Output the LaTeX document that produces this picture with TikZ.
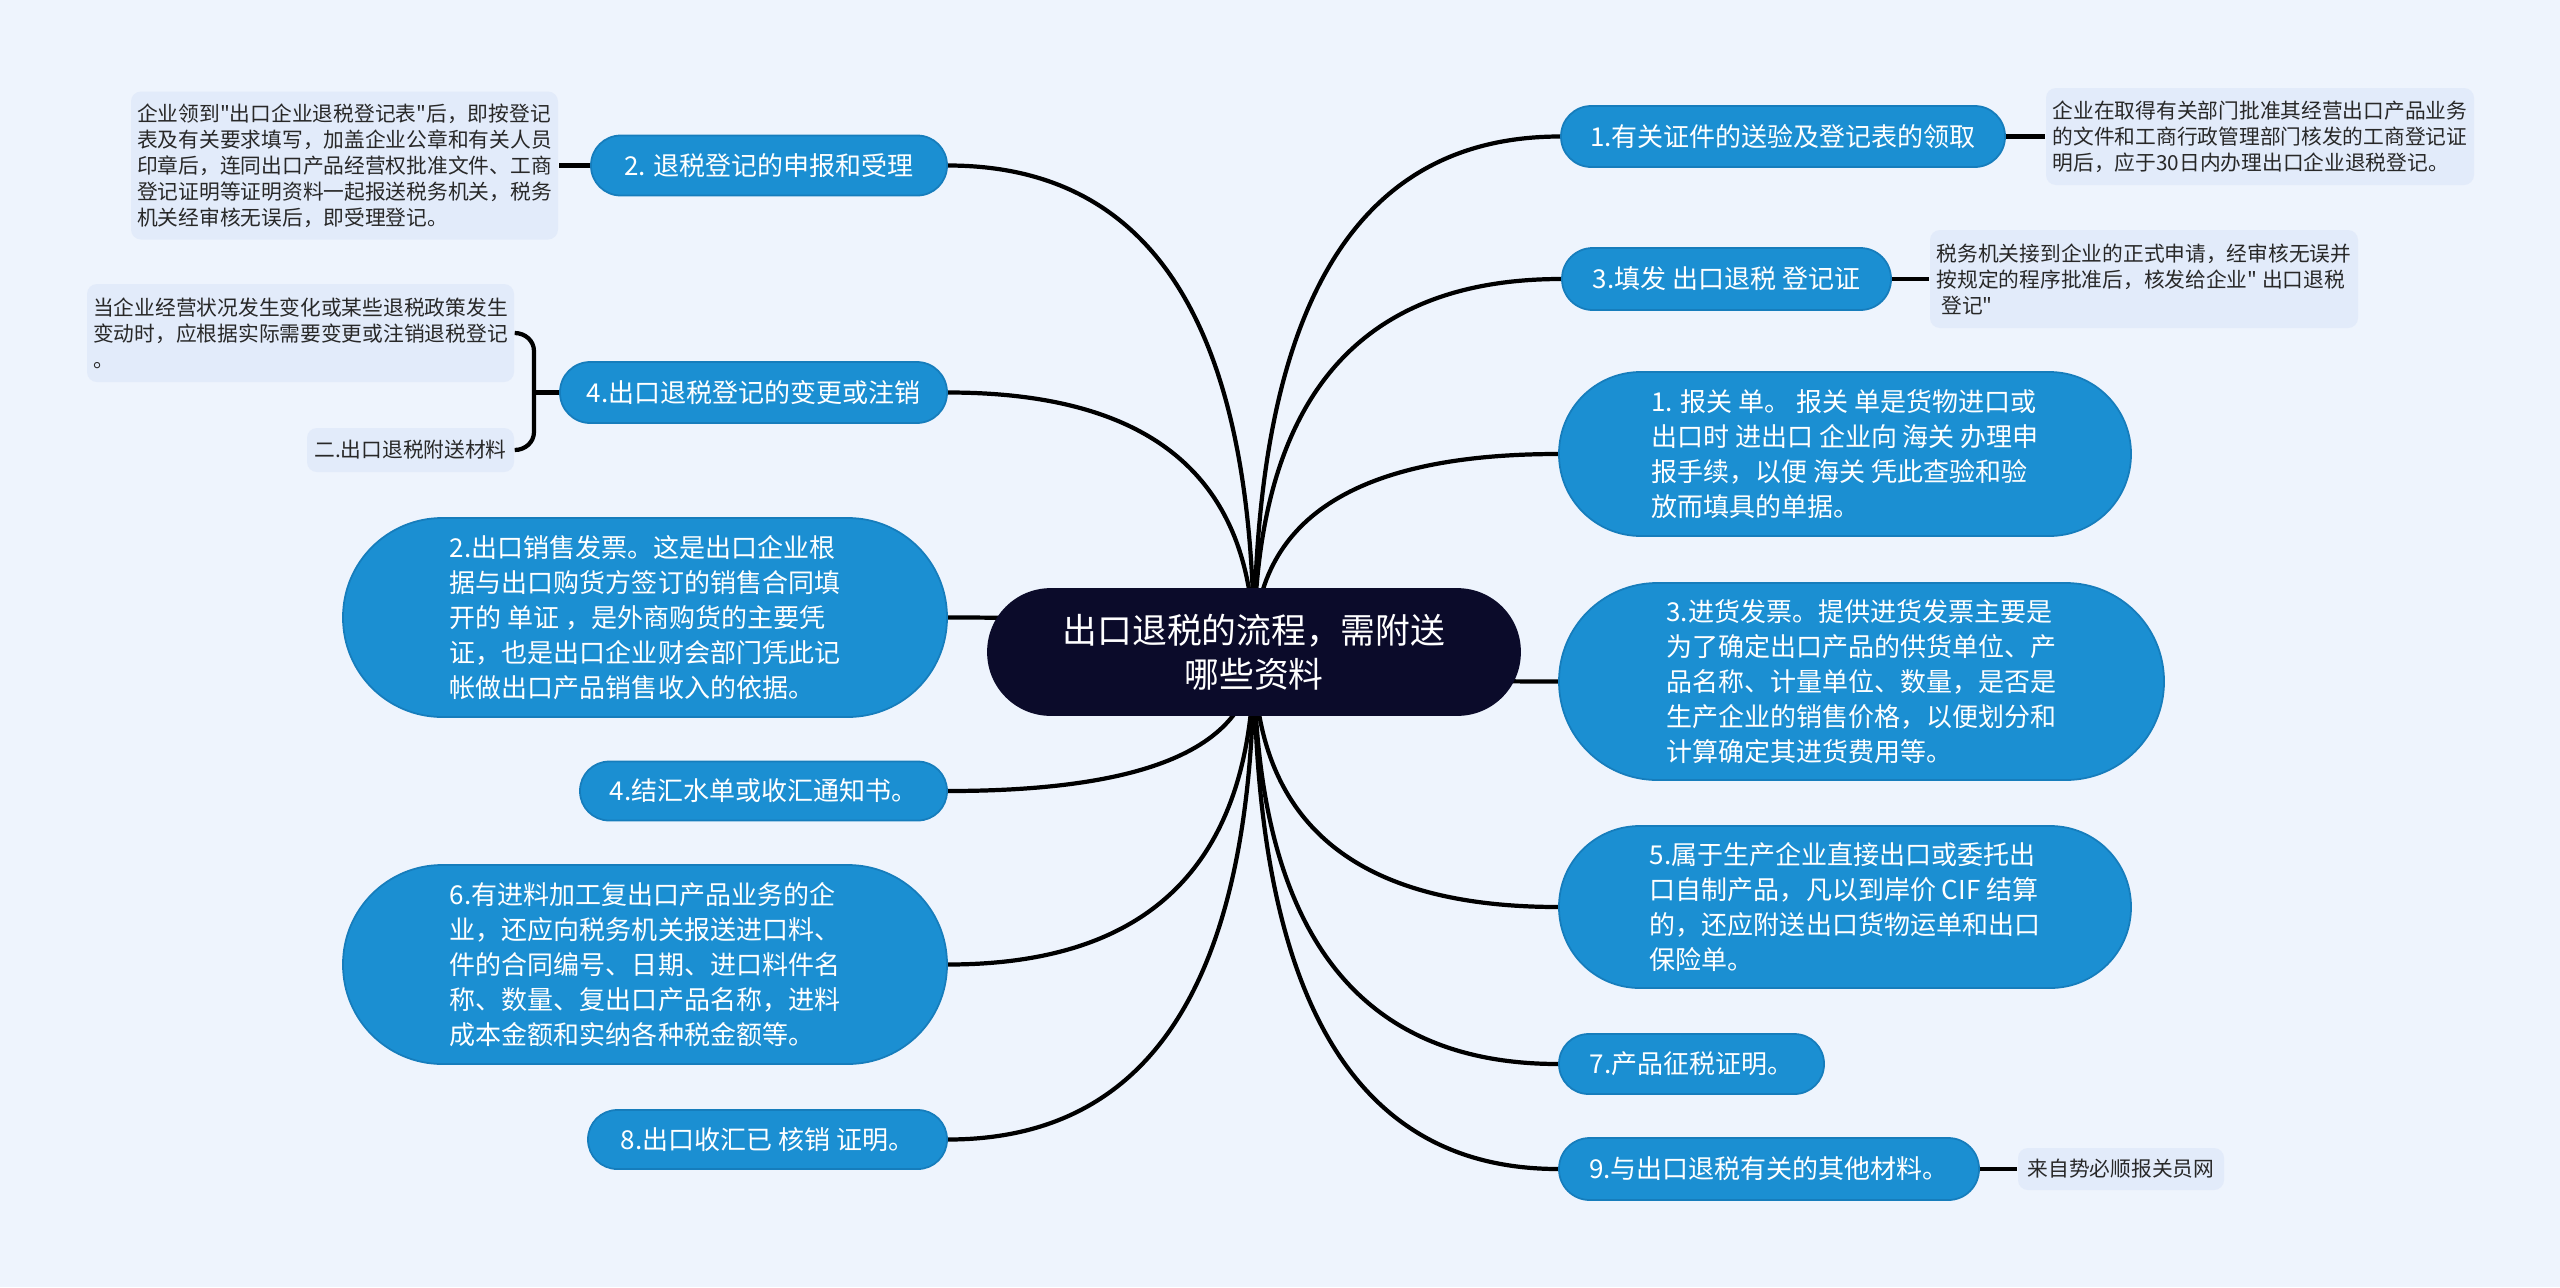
\documentclass[tikz,border=0pt]{standalone}
\usepackage{fontspec}
\setmainfont{Noto Sans CJK SC}[Ligatures=TeXOff]
\usetikzlibrary{calc,backgrounds}
\definecolor{bgblue}{RGB}{238,244,253}
\definecolor{boxblue}{RGB}{226,235,250}
\definecolor{nodeblue}{RGB}{27,143,210}
\definecolor{edgeblue}{RGB}{22,125,188}
\definecolor{rootnavy}{RGB}{11,11,42}
\definecolor{notegray}{RGB}{40,40,40}

\begin{document}
\begin{tikzpicture}[
  pill/.style 2 args={minimum width=#1, minimum height=#2, rounded corners={#2/2-0.1pt}},
  topic/.style={rectangle, fill=nodeblue, draw=edgeblue, line width=0.5pt, text=white,
    inner sep=0pt, align=left, font=\fontsize{7.4}{10}\selectfont},
  note/.style={rectangle, rounded corners=0.1cm, fill=boxblue, text=notegray,
    inner sep=0pt, align=left, font=\fontsize{5.9}{7.4}\selectfont},
  link/.style={black, line width=1.2pt}]
  \useasboundingbox (0,0) rectangle (25.6,-12.87);
  % --- root ---
  \node[topic, pill={5.32cm}{1.26cm}, fill=rootnavy, draw=rootnavy, align=center,
    font=\fontsize{9.9}{12.5}\selectfont] (root) at (12.54,-6.52)
    {出口退税的流程，需附送\\哪些资料};
  % --- right topics ---
  \node[topic, pill={4.44cm}{0.61cm}] (r1) at (17.83,-1.365) {1.有关证件的送验及登记表的领取};
  \node[topic, pill={3.29cm}{0.62cm}] (r2) at (17.265,-2.79) {3.填发 出口退税 登记证};
  \node[topic, pill={5.72cm}{1.64cm}] (r3) at (18.45,-4.54)
    {1. 报关 单。 报关 单是货物进口或\\出口时 进出口 企业向 海关 办理申\\报手续，以便 海关 凭此查验和验\\放而填具的单据。};
  \node[topic, pill={6.05cm}{1.97cm}] (r4) at (18.615,-6.815)
    {3.进货发票。提供进货发票主要是\\为了确定出口产品的供货单位、产\\品名称、计量单位、数量，是否是\\生产企业的销售价格，以便划分和\\计算确定其进货费用等。};
  \node[topic, pill={5.72cm}{1.62cm}] (r5) at (18.45,-9.07)
    {5.属于生产企业直接出口或委托出\\口自制产品，凡以到岸价 CIF 结算\\的，还应附送出口货物运单和出口\\保险单。};
  \node[topic, pill={2.65cm}{0.60cm}] (r6) at (16.915,-10.64) {7.产品征税证明。};
  \node[topic, pill={4.20cm}{0.62cm}] (r7) at (17.69,-11.69) {9.与出口退税有关的其他材料。};
  % --- right notes ---
  \node[note, minimum width=4.28cm, minimum height=0.97cm] (r1d) at (22.60,-1.365)
    {企业在取得有关部门批准其经营出口产品业务\\的文件和工商行政管理部门核发的工商登记证\\明后，应于30日内办理出口企业退税登记。};
  \node[note, minimum width=4.28cm, minimum height=0.98cm] (r2d) at (21.44,-2.79)
    {税务机关接到企业的正式申请，经审核无误并\\按规定的程序批准后，核发给企业" 出口退税\\~登记"};
  \node[note, minimum width=2.06cm, minimum height=0.42cm] (r7d) at (21.21,-11.69)
    {来自势必顺报关员网};
  % --- left topics ---
  \node[topic, pill={3.56cm}{0.60cm}] (l1) at (7.69,-1.655) {2. 退税登记的申报和受理};
  \node[topic, pill={3.87cm}{0.61cm}] (l2) at (7.535,-3.925) {4.出口退税登记的变更或注销};
  \node[topic, pill={6.04cm}{1.99cm}] (l3) at (6.45,-6.175)
    {2.出口销售发票。这是出口企业根\\据与出口购货方签订的销售合同填\\开的 单证 ，是外商购货的主要凭\\证，也是出口企业财会部门凭此记\\帐做出口产品销售收入的依据。};
  \node[topic, pill={3.67cm}{0.59cm}] (l4) at (7.635,-7.91) {4.结汇水单或收汇通知书。};
  \node[topic, pill={6.04cm}{1.99cm}] (l5) at (6.45,-9.645)
    {6.有进料加工复出口产品业务的企\\业，还应向税务机关报送进口料、\\件的合同编号、日期、进口料件名\\称、数量、复出口产品名称，进料\\成本金额和实纳各种税金额等。};
  \node[topic, pill={3.59cm}{0.59cm}] (l6) at (7.675,-11.395) {8.出口收汇已 核销 证明。};
  % --- left notes ---
  \node[note, minimum width=4.27cm, minimum height=1.48cm] (l1d) at (3.445,-1.655)
    {企业领到"出口企业退税登记表"后，即按登记\\表及有关要求填写，加盖企业公章和有关人员\\印章后，连同出口产品经营权批准文件、工商\\登记证明等证明资料一起报送税务机关，税务\\机关经审核无误后，即受理登记。};
  \node[note, minimum width=4.27cm, minimum height=0.98cm] (l2d1) at (3.005,-3.33)
    {当企业经营状况发生变化或某些退税政策发生\\变动时，应根据实际需要变更或注销退税登记\\。};
  \node[note, minimum width=2.07cm, minimum height=0.44cm] (l2d2) at (4.105,-4.50)
    {二.出口退税附送材料};
  \coordinate (brace) at (5.34,-3.925);
  % --- connectors from the root ---
  \begin{scope}[on background layer]
    \fill[bgblue] (0,0) rectangle (25.6,-12.87);
    \foreach \n in {r1,r2,r3,r4,r5,r6,r7}
      \draw[link] (root.center) .. controls ($(root.center)!0.67!(root.center |- \n.west)$)
        and ($(\n.west)!0.67!(root.center |- \n.west)$) .. (\n.west);
    \foreach \n in {l1,l2,l3,l4,l5,l6}
      \draw[link] (root.center) .. controls ($(root.center)!0.67!(root.center |- \n.east)$)
        and ($(\n.east)!0.67!(root.center |- \n.east)$) .. (\n.east);
  \end{scope}
  % --- notes ---
  \draw[link] (r1.east) -- (r1d.west);
  \draw[link] (r2.east) -- (r2d.west);
  \draw[link] (r7.east) -- (r7d.west);
  \draw[link] (l1.west) -- (l1d.east);
  \draw[link] (l2d1.east) to[out=0,in=90] ([yshift=-0.18cm]brace |- l2d1.east)
    -- ([yshift=0.18cm]brace |- l2d2.east) to[out=-90,in=0] (l2d2.east);
  \draw[link] (brace) -- (l2.west);
\end{tikzpicture}
\end{document}
